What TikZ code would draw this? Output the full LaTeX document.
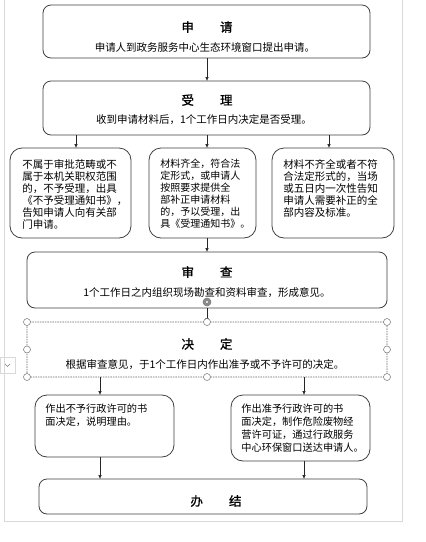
\documentclass[tikz,border=0pt]{standalone}
\usepackage{fontspec}
\setmainfont{Noto Sans CJK SC}
\newfontfamily\ttlfont{Noto Sans CJK SC}[FakeBold=1]
\usepackage{tikz}
\usetikzlibrary{arrows.meta}

\begin{document}
\begin{tikzpicture}[x=1pt,y=-1pt,line width=0.8pt,
    bx/.style={draw=black!75,rounded corners=8pt,inner sep=0pt,outer sep=0pt},
    sbx/.style={bx,rounded corners=12pt},
    ttl/.style={inner sep=0pt,font=\ttlfont\fontsize{12.5}{14}\selectfont},
    txt/.style={inner sep=0pt,font=\fontsize{10.5}{12.5}\selectfont},
    ptxt/.style={txt,align=left,anchor=north west,font=\fontsize{10.5}{12}\selectfont},
    btxt/.style={ptxt,font=\fontsize{10.2}{13.3}\selectfont},
    arr/.style={-{Latex[length=4pt,width=3.5pt]},line width=0.6pt,black!85},
    hdl/.style={draw=black!55,fill=white,line width=0.5pt}]
    \useasboundingbox[fill=white] (0,0) rectangle (426,542);
    % page edge
    \draw[black!15,line width=0.6pt] (4,0) -- (4,521) -- (402,521) -- (402,0);

    %top row
    \draw (206.5,31.5) node(shenqing) [bx,minimum width=327pt,minimum height=53pt] {}
          (206.5,108) node(shouli) [bx,minimum width=327pt,minimum height=54pt] {};
    \draw (207,27) node(t1) [ttl] {申\hspace{26pt}请}
          (205,47) node(s1) [txt] {申请人到政务服务中心生态环境窗口提出申请。}
          (207,100) node(t2) [ttl] {受\hspace{26pt}理}
          (204,120) node(s2) [txt] {收到申请材料后，1个工作日内决定是否受理。};

    %three cases
    \draw (70.5,193) node(buyu) [sbx,minimum width=121pt,minimum height=90pt] {}
          (202.5,193) node(yuyu) [sbx,minimum width=107pt,minimum height=90pt] {}
          (333,193) node(buqi) [sbx,minimum width=122pt,minimum height=90pt] {};
    \draw (22,159) node(p1) [ptxt] {不属于审批范畴或不\\属于本机关职权范围\\的，不予受理，出具\\《不予受理通知书》，\\告知申请人向有关部\\门申请。}
          (160,159) node(p2) [ptxt,font=\fontsize{10}{12}\selectfont] {材料齐全，符合法\\定形式，或申请人\\按照要求提供全\\部补正申请材料\\的，予以受理，出\\具《受理通知书》。}
          (283,159) node(p3) [ptxt] {材料不齐全或者不符\\合法定形式的，当场\\或五日内一次性告知\\申请人需要补正的全\\部内容及标准。};

    %review and decision
    \draw (207,280) node(shencha) [bx,minimum width=360pt,minimum height=56pt] {}
          (207,349.5) node(jueding) [bx,rounded corners=3pt,draw=black!60,
                dash pattern=on 1.5pt off 1pt,minimum width=360pt,minimum height=55pt] {};
    \draw (207,272) node(t3) [ttl] {审\hspace{26pt}查}
          (207,293) node(s3) [txt] {1个工作日之内组织现场勘查和资料审查，形成意见。}
          (207,344) node(t4) [ttl] {决\hspace{26pt}定}
          (205,365) node(s4) [txt] {根据审查意见，于1个工作日内作出准予或不予许可的决定。};

    %two outcomes
    \draw (104.5,426) node(bzhun) [sbx,minimum width=139pt,minimum height=62pt] {}
          (300.5,428) node(zhun) [sbx,minimum width=139pt,minimum height=66pt] {}
          (203,496.5) node(banjie) [bx,minimum width=328pt,minimum height=35pt] {};
    \draw (45,403) node(p4) [btxt] {作出不予行政许可的书\\面决定，说明理由。}
          (241,403) node(p5) [btxt] {作出准予行政许可的书\\面决定，制作危险废物经\\营许可证，通过行政服务\\中心环保窗口送达申请人。}
          (216,501) node(t5) [ttl] {办\hspace{26pt}结};

    %arrows
    \coordinate (xa) at (76,0);
    \coordinate (xm) at (207,0);
    \coordinate (xb) at (329,0);
    \coordinate (xl) at (100,0);
    \coordinate (xr) at (304,0);
    \draw[arr] (shenqing.south -| xm) to (shouli.north -| xm);
    \draw[arr] (shouli.south -| xa) to (buyu.north -| xa);
    \draw[arr] (shouli.south -| xm) to (yuyu.north -| xm);
    \draw[arr] (shouli.south -| xb) to (buqi.north -| xb);
    \draw[arr] (yuyu.south -| xm) to (shencha.north -| xm);
    \draw[arr] (shencha.south -| xm) to (jueding.north -| xm);
    \draw[arr] (jueding.south -| xl) to (bzhun.north -| xl);
    \draw[arr] (jueding.south -| xr) to (zhun.north -| xr);
    \draw[arr] (bzhun.south -| xl) to (banjie.north -| xl);
    \draw[arr] (zhun.south -| xr) to (banjie.north -| xr);

    % selection handles
    \foreach \a in {north west,north,north east,west,east,south west,south,south east}
        \draw[hdl] (jueding.\a) circle (3.5);
    \draw[hdl,fill=black!45] (207,302) circle (4);
    \draw[hdl,fill=white] (207,302) circle (1.8);
    \draw[black!15,line width=0.5pt] (0,357) rectangle (15,373);
    \draw[black!50,line width=0.5pt] (5,364) -- (7.5,366.5) -- (10,364);
\end{tikzpicture}
\end{document}
